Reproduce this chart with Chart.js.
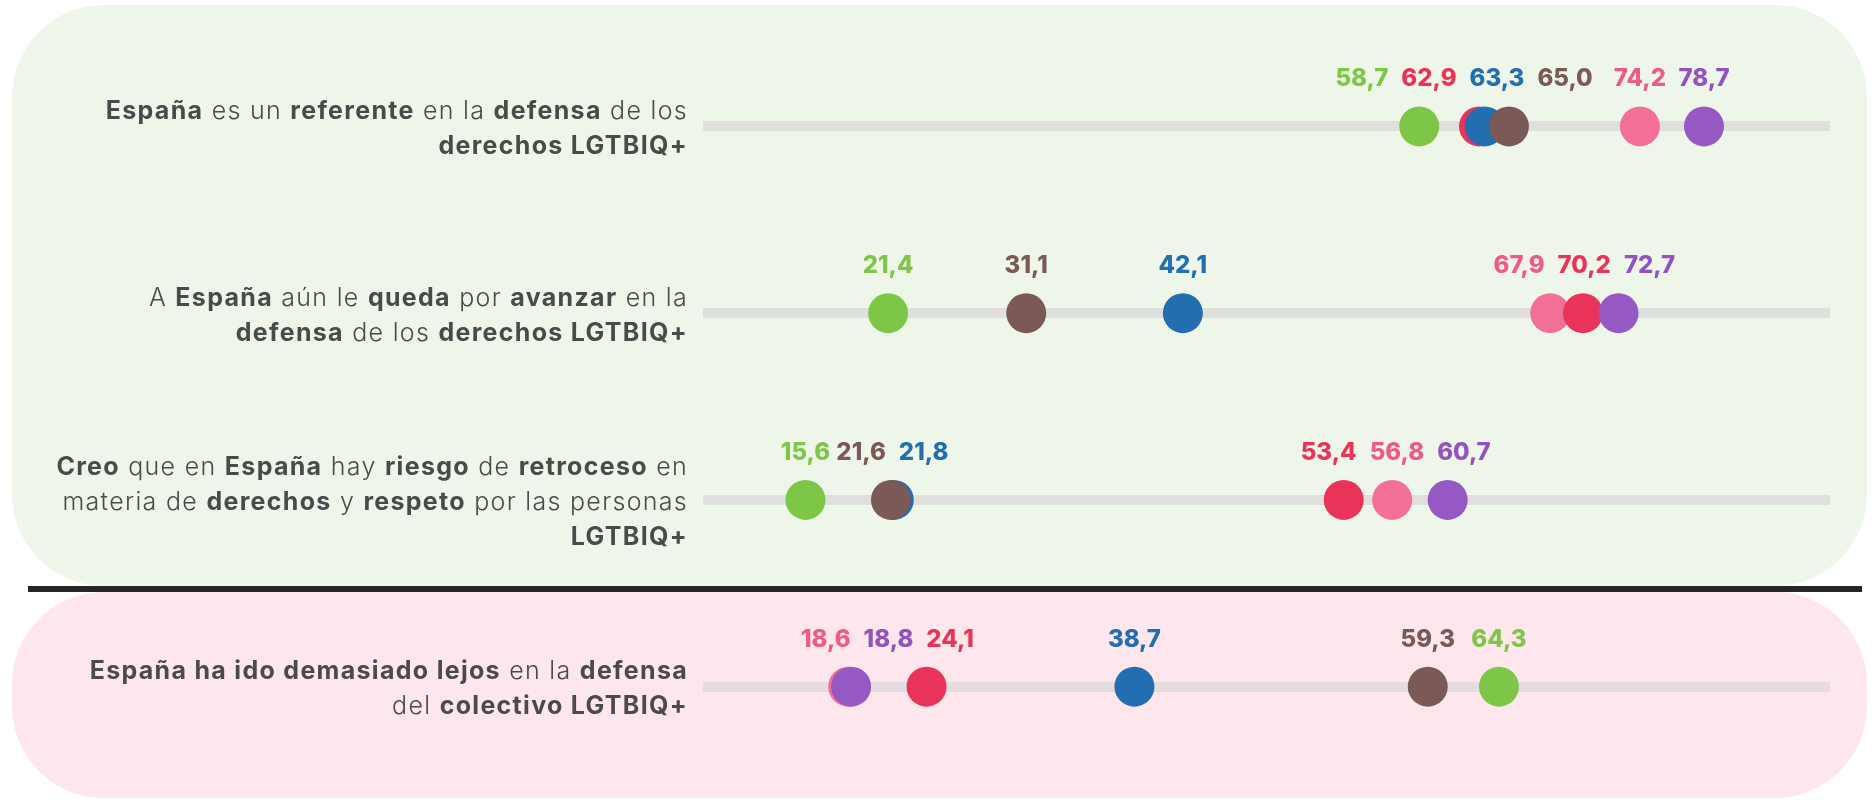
<!DOCTYPE html>
<html lang="es">
<head>
<meta charset="utf-8">
<title>Derechos LGTBIQ+ en España</title>
<script src="https://cdn.jsdelivr.net/npm/chart.js@4.4.1/dist/chart.umd.min.js"></script>
<style>
  html, body { margin: 0; padding: 0; background: #fff; }
  #wrap { position: relative; width: 1872px; height: 800px; overflow: hidden; }
  .panel { position: absolute; border-radius: 92px; }
  #panelTop { left: 12px; top: 5px; width: 1855px; height: 581px; background: #eef6ea; }
  #panelBottom { left: 12px; top: 592px; width: 1855px; height: 206px; background: #fde7ec; }
  #divider { position: absolute; left: 28px; top: 586px; width: 1834px; height: 6px; background: #262626; }
  #chartBox { position: absolute; left: 0; top: 0; width: 1872px; height: 800px; }
</style>
</head>
<body>
<div id="wrap">
  <div class="panel" id="panelTop"></div>
  <div class="panel" id="panelBottom"></div>
  <div id="divider"></div>
  <div id="chartBox"><canvas id="dotChart"></canvas></div>
</div>
<script>
// Frases (las partes entre ** van en negrita)
const rowLabels = [
    ["**España** es un **referente** en la **defensa** de los", "**derechos LGTBIQ+**"],
    ["A **España** aún le **queda** por **avanzar** en la", "**defensa** de los **derechos LGTBIQ+**"],
    ["**Creo** que en **España** hay **riesgo** de **retroceso** en", "materia de **derechos** y **respeto** por las personas", "**LGTBIQ+**"],
    ["**España ha ido demasiado lejos** en la **defensa**", "del **colectivo LGTBIQ+**"]
];

// Valores por serie (una posición por frase)
const purpleValues = [78.7, 72.7, 60.7, 18.8];
const brownValues  = [65.0, 31.1, 21.6, 59.3];
const blueValues   = [63.3, 42.1, 21.8, 38.7];
const redValues    = [62.9, 70.2, 53.4, 24.1];
const pinkValues   = [74.2, 67.9, 56.8, 18.6];
const greenValues  = [58.7, 21.4, 15.6, 64.3];

// El primero se dibuja encima
const seriesValues = [purpleValues, brownValues, blueValues, redValues, pinkValues, greenValues];
const seriesColors = ['#9658c3', '#7b5957', '#236eb1', '#ea3359', '#f27097', '#7ec647'];
const labelColors  = ['#9352c2', '#7b5957', '#236eb1', '#ea3359', '#f05a88', '#7ec647'];

const FONT = "Inter, 'Open Sans', sans-serif";

function formatValue(v) {
    return v.toFixed(1).replace('.', ',');
}

// Textos de las filas con partes en negrita, alineados a la derecha
const rowLabelPlugin = {
    id: 'rowLabels',
    afterDraw(chart) {
        const ctx = chart.ctx;
        const yScale = chart.scales.y;
        const right = chart.chartArea.left - 15;
        const size = 25;
        const lineHeight = 35;
        ctx.save();
        ctx.fillStyle = '#4a4a4a';
        ctx.textBaseline = 'alphabetic';
        ctx.textAlign = 'left';
        ctx.letterSpacing = '1.3px';
        rowLabels.forEach((lines, i) => {
            const y = yScale.getPixelForValue(i);
            const first = y + size * 0.36 + 1 - (lines.length - 1) / 2 * lineHeight;
            lines.forEach((line, k) => {
                const parts = line.split('**');
                const widths = parts.map((p, j) => {
                    ctx.font = (j % 2 ? '700 ' : '300 ') + size + 'px ' + FONT;
                    return ctx.measureText(p).width;
                });
                let x = right - widths.reduce((a, b) => a + b, 0);
                parts.forEach((p, j) => {
                    ctx.font = (j % 2 ? '700 ' : '300 ') + size + 'px ' + FONT;
                    ctx.fillText(p, x, first + k * lineHeight);
                    x += widths[j];
                });
            });
        });
        ctx.restore();
    }
};

// Etiquetas de valor sobre los puntos, separadas para que no se pisen
const valueLabelPlugin = {
    id: 'valueLabels',
    afterDatasetsDraw(chart) {
        const ctx = chart.ctx;
        const yScale = chart.scales.y;
        const gap = 13;      // separación dentro de un grupo
        const minGap = 2;    // distancia mínima entre grupos
        ctx.save();
        ctx.font = '800 24px ' + FONT;
        ctx.textAlign = 'left';
        ctx.textBaseline = 'alphabetic';
        rowLabels.forEach((_, i) => {
            const items = [];
            chart.data.datasets.forEach((ds, d) => {
                const el = chart.getDatasetMeta(d).data[i];
                const text = formatValue(ds.data[i].x);
                items.push({ x: el.x, text: text, w: ctx.measureText(text).width, color: labelColors[d] });
            });
            items.sort((a, b) => a.x - b.x);

            // grupos centrados entre el primer y el último punto
            let clusters = items.map(it => ({ items: [it] }));
            const layout = (c) => {
                c.width = c.items.reduce((a, it) => a + it.w, 0) + gap * (c.items.length - 1);
                const center = (c.items[0].x + c.items[c.items.length - 1].x) / 2;
                c.left = center - c.width / 2;
                c.right = c.left + c.width;
            };
            clusters.forEach(layout);
            let merged = true;
            while (merged) {
                merged = false;
                for (let k = 0; k < clusters.length - 1; k++) {
                    if (clusters[k].right + minGap > clusters[k + 1].left) {
                        clusters[k].items = clusters[k].items.concat(clusters[k + 1].items);
                        clusters.splice(k + 1, 1);
                        layout(clusters[k]);
                        merged = true;
                        break;
                    }
                }
            }

            const baseY = yScale.getPixelForValue(i) - 40;
            clusters.forEach(c => {
                let x = c.left;
                c.items.forEach(it => {
                    ctx.fillStyle = it.color;
                    ctx.fillText(it.text, x, baseY);
                    x += it.w + gap;
                });
            });
        });
        ctx.restore();
    }
};

const datasets = seriesValues.map((values, d) => ({
    label: 'Serie ' + (d + 1),
    data: values.map((v, i) => ({ x: v, y: i })),
    backgroundColor: seriesColors[d],
    borderWidth: 0,
    pointRadius: 20,
    pointHoverRadius: 20
}));

new Chart(document.getElementById('dotChart'), {
    type: 'scatter',
    data: { datasets: datasets },
    options: {
        responsive: true,
        maintainAspectRatio: false,
        animation: false,
        events: [],
        layout: { padding: { left: 703, right: 42, top: 33, bottom: 17 } },
        plugins: {
            legend: { display: false },
            tooltip: { enabled: false }
        },
        scales: {
            x: {
                type: 'linear',
                min: 8.4,
                max: 87.55,
                display: false
            },
            y: {
                type: 'linear',
                min: -0.5,
                max: 3.5,
                reverse: true,
                afterBuildTicks: (axis) => {
                    axis.ticks = rowLabels.map((_, i) => ({ value: i }));
                },
                ticks: { display: false },
                border: { display: false },
                grid: {
                    lineWidth: 10,
                    drawTicks: false,
                    color: (c) => c.tick && c.tick.value === 3 ? '#e4dcdf' : '#dfe0dc'
                }
            }
        }
    },
    plugins: [rowLabelPlugin, valueLabelPlugin]
});
</script>
</body>
</html>
